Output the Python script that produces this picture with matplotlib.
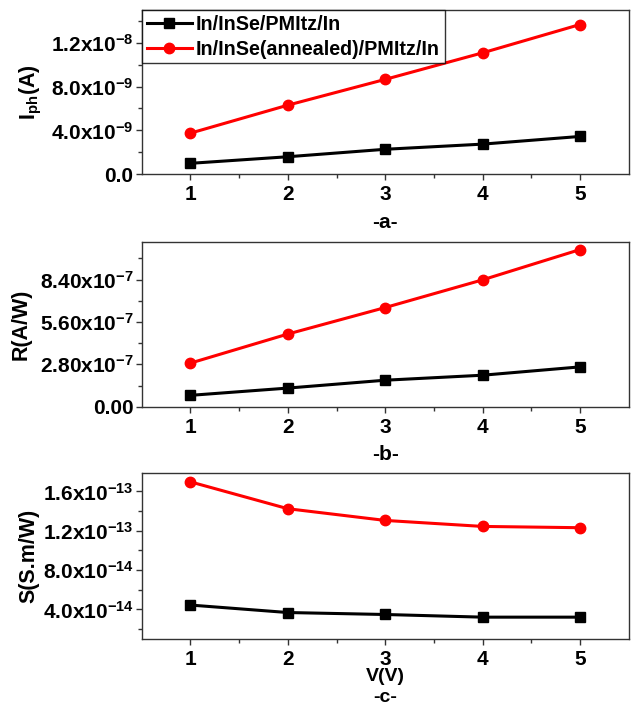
import matplotlib
matplotlib.use("Agg")
import matplotlib.pyplot as plt
from matplotlib.ticker import FixedLocator, FuncFormatter
import numpy as np

plt.rcParams['font.family'] = ['Liberation Sans', 'DejaVu Sans']
plt.rcParams['font.weight'] = 'bold'
plt.rcParams['mathtext.fontset'] = 'custom'
plt.rcParams['mathtext.rm'] = 'Liberation Sans:bold'
plt.rcParams['mathtext.it'] = 'Liberation Sans:bold'
plt.rcParams['mathtext.bf'] = 'Liberation Sans:bold'

# ---- data ----
voltage = [1, 2, 3, 4, 5]
series_names = ['In/InSe/PMItz/In', 'In/InSe(annealed)/PMItz/In']

iph_plain = [1.0e-9, 1.6e-9, 2.28e-9, 2.75e-9, 3.45e-9]
iph_annealed = [3.75e-9, 6.3e-9, 8.65e-9, 11.07e-9, 13.65e-9]

resp_plain = [0.75e-7, 1.23e-7, 1.75e-7, 2.08e-7, 2.63e-7]
resp_annealed = [2.88e-7, 4.8e-7, 6.55e-7, 8.38e-7, 10.38e-7]

sens_plain = [4.45e-14, 3.69e-14, 3.49e-14, 3.22e-14, 3.22e-14]
sens_annealed = [1.697e-13, 1.424e-13, 1.305e-13, 1.244e-13, 1.231e-13]

panel_letters = ['-a-', '-b-', '-c-']
ylabels = [r'I$_{\mathregular{ph}}$(A)', 'R(A/W)', 'S(S.m/W)']
xlabel_c = 'V(V)'

iph_ticks = [0, 4e-9, 8e-9, 1.2e-8]
resp_ticks = [0, 2.8e-7, 5.6e-7, 8.4e-7]
sens_ticks = [4e-14, 8e-14, 1.2e-13, 1.6e-13]


def sci_formatter(decimals):
    def fmt(v, pos):
        if abs(v) < 1e-30:
            return f"{0:.{decimals}f}"
        exp = int(np.floor(np.log10(abs(v)) + 1e-9))
        mant = v / 10**exp
        return f"{mant:.{decimals}f}x10$^{{{exp}}}$"
    return FuncFormatter(fmt)


W, H = 634, 709
fig = plt.figure(figsize=(W/100, H/100), dpi=100)

left = 141.7 / W
width = (628.7 - 141.7) / W
def rect(top_px, bot_px):
    return [left, 1 - bot_px / H, width, (bot_px - top_px) / H]

ax_a = fig.add_axes(rect(9.7, 174.3))
ax_b = fig.add_axes(rect(241.7, 406.7))
ax_c = fig.add_axes(rect(472.7, 639.0))

panels = [
    (ax_a, iph_plain, iph_annealed, (0, 1.5e-8), iph_ticks, 1),
    (ax_b, resp_plain, resp_annealed, (0, 1.09e-6), resp_ticks, 2),
    (ax_c, sens_plain, sens_annealed, (1e-14, 1.79e-13), sens_ticks, 1),
]

spine_col = '#333333'
for i, (ax, yb, yr, ylim, ticks, dec) in enumerate(panels):
    ax.plot(voltage, yb, color='black', lw=2.2, marker='s', ms=6.5,
            label=series_names[0], zorder=3)
    ax.plot(voltage, yr, color='#ff0000', lw=2.2, marker='o', ms=7.5,
            label=series_names[1], zorder=3)
    ax.set_xlim(0.5, 5.5)
    ax.set_ylim(*ylim)
    step = ticks[1] - ticks[0]
    minors = [t + step / 2 for t in ticks] + [ticks[0] - step / 2]
    minors = [m for m in minors if ylim[0] < m < ylim[1]]
    ax.xaxis.set_major_locator(FixedLocator(voltage))
    ax.xaxis.set_minor_locator(FixedLocator([v + 0.5 for v in voltage[:-1]]))
    ax.yaxis.set_major_locator(FixedLocator(ticks))
    ax.yaxis.set_minor_locator(FixedLocator(minors))
    ax.yaxis.set_major_formatter(sci_formatter(dec))
    ax.tick_params(axis='both', which='both', direction='out', top=False,
                   right=False, color=spine_col, width=1)
    ax.tick_params(axis='both', which='major', length=4, labelsize=15, pad=2)
    ax.tick_params(axis='x', which='major', pad=4)
    ax.tick_params(axis='both', which='minor', length=3)
    for s in ax.spines.values():
        s.set_color(spine_col)
        s.set_linewidth(1)
    for t in ax.get_xticklabels() + ax.get_yticklabels():
        t.set_fontweight('bold')
    ax.set_ylabel(ylabels[i], fontsize=15.5, fontweight='bold')
    if i < 2:
        ax.set_xlabel(panel_letters[i], fontsize=15, fontweight='bold', labelpad=6)

ax_c.set_xlabel(xlabel_c, fontsize=14, fontweight='bold', labelpad=-1)
fig.text(left + width * 0.5, 1 - 698 / H, panel_letters[2], fontsize=14,
         fontweight='bold', ha='center', va='center')

ax_a.yaxis.set_label_coords(-0.201, 0.5)
ax_b.yaxis.set_label_coords(-0.226, 0.5)
ax_c.yaxis.set_label_coords(-0.21, 0.5)

leg = ax_a.legend(loc='upper left', bbox_to_anchor=(0, 1), borderaxespad=0,
                  frameon=True, fancybox=False, edgecolor='black',
                  prop={'weight': 'bold', 'size': 14.2}, borderpad=0.25,
                  handlelength=2.3, handletextpad=0.2, labelspacing=0.3)
leg.get_frame().set_linewidth(1.0)
leg.set_zorder(5)

fig.savefig('out.png', dpi=100, facecolor='white')
